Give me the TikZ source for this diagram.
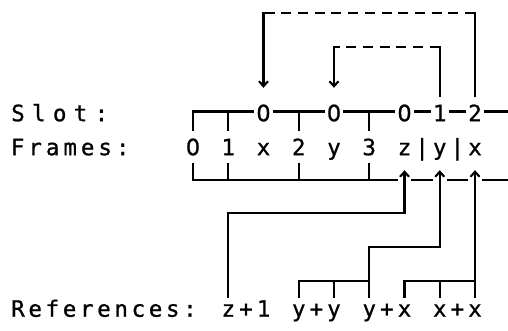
\documentclass[tikz,border=0pt]{standalone}
\usepackage{fontspec}
\newfontfamily\bob[FakeBold=0.9]{DejaVu Sans Mono}
\newfontfamily\zf[FakeBold=0.9]{DejaVu Sans}
\usetikzlibrary{arrows.meta,calc}
\makeatletter
\newcommand\spaced[2]{\@tfor\spch:=#2\do{\makebox[#1][c]{\spch}}}
\makeatother
\begin{document}
\begin{tikzpicture}[x=1pt,y=-1pt,
  every node/.style={font=\bob\fontsize{22.5}{27}\selectfont, inner sep=0pt, text height=16.4pt, text depth=0pt},
  lab/.style={anchor=west},
  slotch/.style={fill=white, inner xsep=2pt, minimum height=34pt},
  frame/.style={minimum height=33pt},
  ref/.style={minimum height=23pt},
  wire/.style={line width=2.1pt, line cap=rect},
  dline/.style={line width=2.1pt, dash pattern=on 10pt off 6.7pt},
  arr/.style={line width=2.1pt, line cap=rect, -{Straight Barb[length=5pt,width=9pt]}}
]
\useasboundingbox (0,0) rectangle (508,331);
\coordinate (toprow) at (0,13);
\coordinate (midrow) at (0,46.7);
\coordinate (slotend) at (508,111.5);
\coordinate (busend) at (508,180);

% labels
\node[lab] (slotlab) at (7.4,113) {\spaced{20.85pt}{Slot:}};
\node[lab] (framelab) at (8.75,147) {\spaced{17.5pt}{Frames:}};
\node[lab] (reflab) at (9.2,308.5) {\spaced{17.2pt}{References:}};

% frames
\node[frame] (f0) at (193,147) {\zf 0};
\node[frame] (f1) at (228.25,147) {1};
\node[frame] (fx) at (263.5,147) {x};
\node[frame] (f2) at (298.75,147) {2};
\node[frame] (fy) at (334,147) {y};
\node[frame] (f3) at (369.25,147) {3};
\node[frame] (fz) at (404.5,147) {z};
\node (p1) at (422.125,147) {|};
\node[frame] (fy2) at (439.75,147) {y};
\node (p2) at (457.375,147) {|};
\node[frame] (fx2) at (475,147) {x};

% slot bus
\draw[wire] (f0.north) |- (slotend);
\foreach \n in {f1,f2,f3} \draw[wire] (\n.north) -- (\n.north |- slotend);
\node[slotch] (s14) at (263.5,113) {\zf 0};
\node[slotch] (s18) at (334,113) {\zf 0};
\node[slotch] (s22) at (404.5,113) {\zf 0};
\node[slotch] (s24) at (439.75,113) {1};
\node[slotch] (s26) at (475,113) {2};

% frame bus
\coordinate (tz) at (fz.south |- busend);
\coordinate (ty) at (fy2.south |- busend);
\coordinate (tx) at (fx2.south |- busend);
\draw[wire] (f0.south) |- ([xshift=-8pt]tz);
\draw[wire] ([xshift=8pt]tz) -- ([xshift=-8pt]ty);
\draw[wire] ([xshift=8pt]ty) -- ([xshift=-8pt]tx);
\draw[wire] ([xshift=8pt]tx) -- (busend);
\foreach \n in {f1,f2,f3} \draw[wire] (\n.south) -- (\n.south |- busend);

% top dashed links
\draw[wire] (s26.north) -- (s26.north |- toprow);
\draw[dline] (s26.north |- toprow) -- (s14.north |- toprow);
\draw[arr, shorten >=8pt] (s14.north |- toprow) -- (s14.north);
\draw[wire] (s24.north) -- (s24.north |- midrow);
\draw[dline] (s24.north |- midrow) -- (s18.north |- midrow);
\draw[arr, shorten >=8pt] (s18.north |- midrow) -- (s18.north);

% references
\node[ref] (rz) at (246,308.5) {\spaced{17.625pt}{z+1}};
\node[ref] (ryy) at (316.375,308.5) {\spaced{17.625pt}{y+y}};
\node[ref] (ryx) at (386.875,308.5) {\spaced{17.625pt}{y+x}};
\node[ref] (rxx) at (457.375,308.5) {\spaced{17.625pt}{x+x}};

\draw[arr, shorten >=6.5pt] ([xshift=-17.625pt]rz.north) |- ($(fz.south)+(0,49)$) -- (fz.south);
\draw[wire] ([xshift=-17.625pt]ryy.north) |- ($([xshift=-17.625pt]ryx.north)+(0,-16)$);
\draw[wire] ([xshift=17.625pt]ryy.north) -- ++(0,-16);
\draw[arr, shorten >=6.5pt] ([xshift=-17.625pt]ryx.north) |- ($(fy2.south)+(0,83.5)$) -- (fy2.south);
\draw[wire] ([xshift=17.625pt]ryx.north) |- ($([xshift=17.625pt]rxx.north)+(0,-16)$);
\draw[wire] ([xshift=-17.625pt]rxx.north) -- ++(0,-16);
\draw[arr, shorten >=6.5pt] ([xshift=17.625pt]rxx.north) -- (fx2.south);
\end{tikzpicture}
\end{document}
